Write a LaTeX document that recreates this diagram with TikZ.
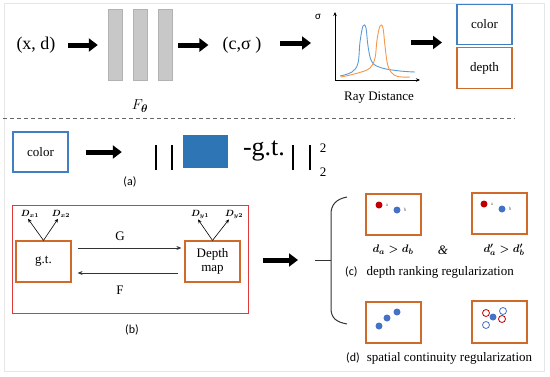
\documentclass[tikz,border=0pt]{standalone}
\usepackage{fontspec}
\setmainfont{Liberation Serif}
\newfontfamily\capfont{Carlito}
\usepackage{bm}
\usetikzlibrary{arrows.meta,positioning}
\definecolor{boxblue}{HTML}{3F7FC2}
\definecolor{boxorange}{HTML}{D06A2A}
\definecolor{boxred}{HTML}{E03A3A}
\definecolor{sqblue}{HTML}{2E75B6}
\definecolor{dotblue}{HTML}{4472C4}
\definecolor{dotred}{HTML}{C00000}
\definecolor{curveblue}{HTML}{5B9BD5}
\definecolor{curveorange}{HTML}{F79646}
\definecolor{bargray}{HTML}{C8C8C8}
\definecolor{framegray}{HTML}{E6E6E6}
\tikzset{
  fs/.style={font=\fontsize{#1}{#1}\selectfont},
  bigarrow/.style={line width=5pt,-{Triangle[length=9pt,width=13pt]}},
  thinarrow/.style={line width=0.8pt,draw=black!80,-{Stealth[length=5pt,width=4pt]}},
  smallarrow/.style={line width=0.6pt,-{Stealth[length=4pt,width=3.5pt]}},
  netbar/.style={draw=black!30,fill=bargray,minimum width=14pt,minimum height=71pt,inner sep=0pt},
  bluebox/.style={draw=boxblue,line width=1.2pt,minimum width=55pt,minimum height=40pt,inner sep=0pt,fs=13},
  orangebox/.style={draw=boxorange,line width=1.2pt,minimum width=55pt,minimum height=41pt,inner sep=0pt,fs=13},
  dotb/.style={circle,fill=dotblue,minimum size=7pt,inner sep=0pt},
  dotr/.style={circle,fill=dotred,minimum size=7pt,inner sep=0pt},
  ringb/.style={circle,draw=dotblue,line width=0.8pt,minimum size=7pt,inner sep=0pt},
  ringr/.style={circle,draw=dotred,line width=0.8pt,minimum size=7pt,inner sep=0pt},
  tiny/.style={font=\fontsize{5}{5}\selectfont,text=black!60,inner sep=0pt},
  caption/.style={font=\capfont\fontsize{12}{12}\selectfont},
  dlabel/.style={font=\fontsize{9}{9}\selectfont\boldmath,inner sep=1pt},
}
\begin{document}
\begin{tikzpicture}[x=1pt,y=-1pt]
\useasboundingbox (0,0) rectangle (550,376);
\draw[framegray,line width=0.6pt] (4,3) rectangle (544,371);

% ---------- top row ----------
\node[fs=18,inner sep=0pt] (xd) at (36,45) {(x, d)};
\node[netbar] (b1) at (115,45) {};
\node[netbar] (b2) at (140,45) {};
\node[netbar] (b3) at (165.5,45) {};
\node[fs=15] (ftheta) at (140,106) {$F_{\bm\theta}$};
\node[fs=18,inner sep=0pt] (cs) at (242,45) {(c,σ )};
\draw[bigarrow,shorten <=12.5pt,shorten >=10pt] (xd.east) -- (b1.west);
\draw[bigarrow,shorten <=5.5pt,shorten >=14pt] (b3.east) -- (cs.west);

% plot
\coordinate (orig) at (335,80);
\coordinate (ytop) at (335,12);
\coordinate (xend) at (420,80);
\draw[line width=0.7pt,-{Stealth[length=4pt,width=3.5pt]}] (orig) -- (ytop);
\draw[line width=0.7pt,-{Stealth[length=4pt,width=3.5pt]}] (orig) -- (xend);
\node[font=\capfont\fontsize{11}{11}\selectfont] (sig) at (318,17) {σ};
\node[fs=13] (ray) at (379,98) {Ray Distance};
\draw[curveblue,line width=0.9pt] plot[smooth,tension=0.6] coordinates
 {(340,76) (352,72) (358,63) (360,42) (363,26) (366,28) (368,46) (372,62) (382,68) (400,71) (415,72)};
\draw[curveorange,line width=0.9pt] plot[smooth,tension=0.6] coordinates
 {(341,77) (358,73) (370,68) (375,58) (377,40) (380,26) (383,28) (385,46) (388,66) (394,75) (402,77) (410,77)};
\coordinate (plotW) at (335,43);
\coordinate (a3s) at (280,43);
\draw[bigarrow,shorten >=24pt] (a3s) -- (plotW);

\node[bluebox] (colortop) at (484.5,24.5) {color};
\node[orangebox] (depthtop) at (484.5,68) {depth};
\coordinate (a4s) at (411,42.5);
\coordinate (outs) at (462,42.5);
\draw[bigarrow,shorten >=20pt] (a4s) -- (outs);

% dashed separator
\draw[black!60,line width=0.8pt,dash pattern=on 4pt off 3pt] (3,118) -- (515,118);

% ---------- (a) ----------
\node[bluebox,minimum height=40pt] (colora) at (40.5,152) {color};
\node[draw=none,fill=sqblue,minimum width=45pt,minimum height=33pt,inner sep=0pt] (sq) at (205.5,151.5) {};
\draw[bigarrow,shorten <=17pt,shorten >=61pt] (colora.east) -- (sq.west |- colora.east);
\draw[line width=1.6pt] (156,145) -- (156,170) (172,145) -- (172,170);
\node[fs=26,inner sep=0pt] (gtl) at (264,151) {-g.t.};
\draw[line width=1.6pt] (293,145) -- (293,170) (310,145) -- (310,170);
\node[fs=13] (sup) at (323,148) {2};
\node[fs=13] (sub) at (323,172) {2};
\node[caption] (capa) at (130,182) {(a)};

% ---------- (b) ----------
\node[draw=boxred,line width=1pt,minimum width=236pt,minimum height=108pt,inner sep=0pt] (bbox) at (130,259) {};
\node[orangebox] (gt) at (43.5,261.5) {g.t.};
\node[orangebox,align=center,font=\fontsize{13}{14}\selectfont] (dm) at (212.5,261.5) {Depth\\map};
\draw[thinarrow,shorten <=6pt,shorten >=3pt] ([yshift=13.5pt]gt.east) -- ([yshift=13.5pt]dm.west);
\draw[thinarrow,shorten <=6pt,shorten >=6pt] ([yshift=-11.5pt]dm.west) -- ([yshift=-11.5pt]gt.east);
\node[fs=13] (glab) at (120,236) {G};
\node[fs=13] (flab) at (120,290) {F};
\node[dlabel] (dx1) at (30,214) {$D_{x1}$};
\node[dlabel] (dx2) at (61,214) {$D_{x2}$};
\node[dlabel] (dy1) at (200,214) {$D_{y1}$};
\node[dlabel] (dy2) at (234,214) {$D_{y2}$};
\draw[smallarrow] (gt.north) -- ([xshift=-2pt]dx1.south);
\draw[smallarrow] (gt.north) -- ([xshift=-3pt]dx2.south);
\draw[smallarrow] (dm.north) -- ([xshift=-2pt]dy1.south);
\draw[smallarrow] (dm.north) -- ([xshift=-5pt]dy2.south);
\node[caption] (capb) at (132,330) {(b)};

% big arrow and bracket
\coordinate (tick) at (315,260);
\draw[bigarrow,shorten <=14pt,shorten >=17pt] (bbox.east |- tick) -- (tick);
\draw[black!80,line width=1pt] (tick) -- (331,260);
\draw[black!80,line width=1pt] (347,197) .. controls (336,199) and (331,205) .. (331,214)
  -- (331,308) .. controls (331,318) and (336,322) .. (347,324);

% ---------- (c) ----------
\node[orangebox] (c1) at (393.5,214.5) {};
\node[orangebox] (c2) at (499.5,213.5) {};
\node[dotr] (c1a) at (379,205) {};
\node[tiny,right=3pt of c1a] (c1al) {a};
\node[dotb] (c1b) at (397,210) {};
\node[tiny,right=3pt of c1b] (c1bl) {b};
\node[dotr] (c2a) at (484,204) {};
\node[tiny,right=3pt of c2a] (c2al) {a};
\node[dotb] (c2b) at (502,209) {};
\node[tiny,right=3pt of c2b] (c2bl) {b};
\node[font=\fontsize{11}{11}\selectfont\boldmath] (ineq1) at (393,250) {$d_a > d_b$};
\node[fs=13] (amp) at (443,250) {\textit{\&}};
\node[font=\fontsize{11}{11}\selectfont\boldmath] (ineq2) at (504,250) {$d'_a > d'_b$};
\node[fs=13,anchor=west,inner sep=0pt] (capc) at (345,272) {{\capfont\fontsize{12}{12}\selectfont (c)}\hspace{9pt}depth ranking regularization};

% ---------- (d) ----------
\node[orangebox] (d1) at (393.5,322.5) {};
\node[orangebox,minimum height=42pt] (d2) at (499.5,322) {};
\node[dotb] (d1p1) at (379,326) {};
\node[dotb] (d1p2) at (387,318) {};
\node[dotb] (d1p3) at (397,312) {};
\node[dotb] (d2c) at (493,317) {};
\node[ringr] (d2r1) at (486,313) {};
\node[ringr] (d2r2) at (502,319) {};
\node[ringb] (d2b1) at (503,311) {};
\node[ringb] (d2b2) at (486,325) {};
\node[fs=13,anchor=west,inner sep=0pt] (capd) at (346,358) {{\capfont\fontsize{12}{12}\selectfont (d)}\hspace{7pt}spatial continuity regularization};
\end{tikzpicture}
\end{document}
